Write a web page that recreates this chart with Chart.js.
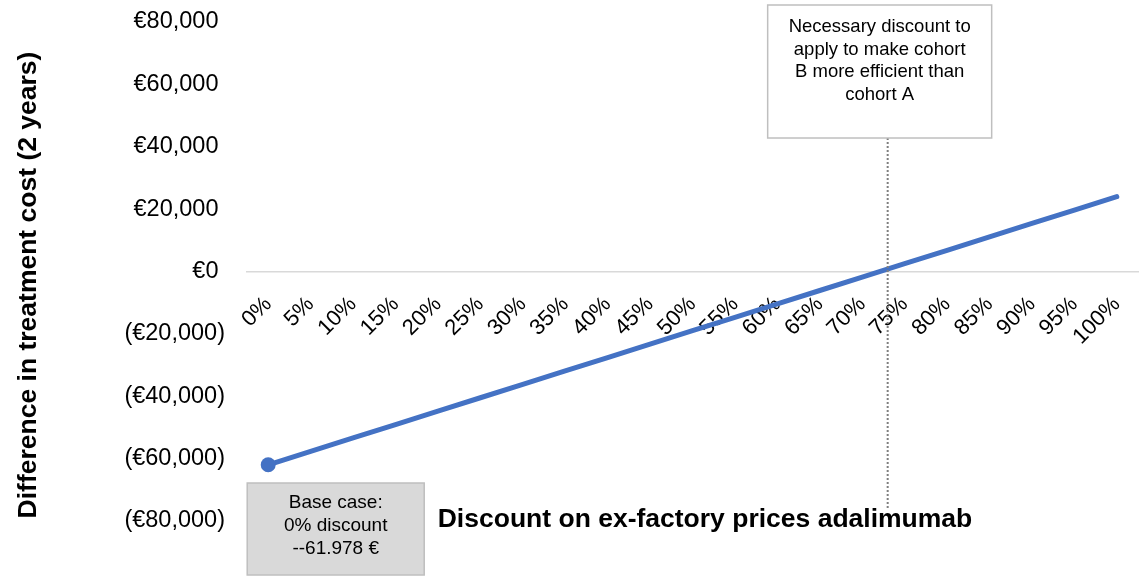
<!DOCTYPE html>
<html>
<head>
<meta charset="utf-8">
<script src="https://cdn.jsdelivr.net/npm/chart.js@4/dist/chart.umd.min.js"></script>
<style>
  html, body { margin: 0; padding: 0; background: #ffffff; }
  #wrap { position: relative; width: 1140px; height: 576px; }
</style>
</head>
<body>
<div id="wrap"><canvas id="c" width="1140" height="576"></canvas></div>
<script>
// ---- data ----
const discountLabels = ['0%','5%','10%','15%','20%','25%','30%','35%','40%','45%','50%','55%','60%','65%','70%','75%','80%','85%','90%','95%','100%'];
const costDifference = [-61978, -57680, -53380, -49080, -44780, -40480, -36180, -31890, -27590, -23290, -18990, -14690, -10390, -6090, -1790, 2510, 6810, 11100, 15400, 19700, 24000];
const yTickValues = [80000, 60000, 40000, 20000, 0, -20000, -40000, -60000, -80000];
const breakEvenDiscount = 73; // percent, dotted marker
const yAxisTitle = 'Difference in treatment cost (2 years)';
const xAxisTitle = 'Discount on ex-factory prices adalimumab';
const noteTop = ['Necessary discount to', 'apply to make cohort', 'B more efficient than', 'cohort A'];
const noteBase = ['Base case:', '0% discount', '--61.978 \u20AC'];

const FONT = "'Liberation Sans', Arial, sans-serif";

function fmtEuro(v) {
  const s = '\u20AC' + Math.abs(v).toLocaleString('en-US');
  return v < 0 ? '(' + s + ')' : s + ' ';
}

const overlay = {
  id: 'overlay',
  afterDraw(chart) {
    const ctx = chart.ctx;
    const xs = chart.scales.x;
    ctx.save();
    // axis titles
    ctx.fillStyle = '#000';
    ctx.font = 'bold 26.5px ' + FONT;
    ctx.textAlign = 'center';
    ctx.textBaseline = 'middle';
    ctx.save();
    ctx.translate(29, 285);
    ctx.rotate(-Math.PI / 2);
    ctx.fillText(yAxisTitle, 0, 0);
    ctx.restore();
    ctx.fillText(xAxisTitle, 705, 520);

    // dotted break-even line
    const lx = xs.getPixelForValue(breakEvenDiscount / 5);
    const boxTop = 5, boxBottom = 138;
    ctx.strokeStyle = '#7f7f7f';
    ctx.lineWidth = 2;
    ctx.setLineDash([2, 2]);
    ctx.beginPath();
    ctx.moveTo(lx, boxBottom);
    ctx.lineTo(lx, 508);
    ctx.stroke();
    ctx.setLineDash([]);

    // top note box
    const bl = lx - 120, bw = 224;
    ctx.fillStyle = '#ffffff';
    ctx.fillRect(bl, boxTop, bw, boxBottom - boxTop);
    ctx.strokeStyle = '#bfbfbf';
    ctx.lineWidth = 1.5;
    ctx.strokeRect(bl, boxTop, bw, boxBottom - boxTop);
    ctx.fillStyle = '#000';
    ctx.font = '18.5px ' + FONT;
    noteTop.forEach((t, i) => ctx.fillText(t, bl + bw / 2, 27 + i * 22.5));

    // base case box
    const px = xs.getPixelForValue(0);
    const b2l = px - 21, b2w = 177, b2t = 483, b2b = 575;
    ctx.fillStyle = '#d9d9d9';
    ctx.fillRect(b2l, b2t, b2w, b2b - b2t);
    ctx.strokeStyle = '#bfbfbf';
    ctx.strokeRect(b2l, b2t, b2w, b2b - b2t);
    ctx.fillStyle = '#000';
    ctx.font = '19px ' + FONT;
    noteBase.forEach((t, i) => ctx.fillText(t, b2l + b2w / 2, 503 + i * 23));
    ctx.restore();
  }
};

new Chart(document.getElementById('c'), {
  type: 'line',
  data: {
    labels: discountLabels,
    datasets: [{
      data: costDifference,
      borderColor: '#4472c4',
      backgroundColor: '#4472c4',
      borderWidth: 5,
      borderCapStyle: 'round',
      tension: 0,
      pointRadius: ctx => ctx.dataIndex === 0 ? 7.5 : 0,
      pointHoverRadius: ctx => ctx.dataIndex === 0 ? 7.5 : 0,
      pointBorderWidth: 0,
      fill: false
    }]
  },
  options: {
    responsive: false,
    animation: false,
    devicePixelRatio: 1,
    layout: { autoPadding: false, padding: { top: 22, bottom: 55, left: 0, right: 2 } },
    plugins: { legend: { display: false }, tooltip: { enabled: false } },
    scales: {
      x: {
        type: 'category',
        offset: true,
        position: { y: 0 },
        afterFit: s => { s.height = 0; s.paddingLeft = 0; s.paddingRight = 0; },
        grid: { display: false, drawTicks: false },
        border: { display: true, color: '#d9d9d9', width: 1.5 },
        ticks: {
          autoSkip: false,
          maxRotation: 45,
          minRotation: 45,
          padding: 20,
          color: '#000',
          font: { family: FONT, size: 22 }
        }
      },
      y: {
        min: -80000,
        max: 80000,
        afterFit: s => { s.width = 247; s.paddingTop = 0; s.paddingBottom = 0; },
        afterBuildTicks: s => { s.ticks = yTickValues.map(v => ({ value: v })); },
        grid: { display: false, drawTicks: false },
        border: { display: false },
        ticks: {
          padding: 22,
          color: '#000',
          font: { family: FONT, size: 23.5 },
          callback: v => fmtEuro(v)
        }
      }
    }
  },
  plugins: [overlay]
});
</script>
</body>
</html>
